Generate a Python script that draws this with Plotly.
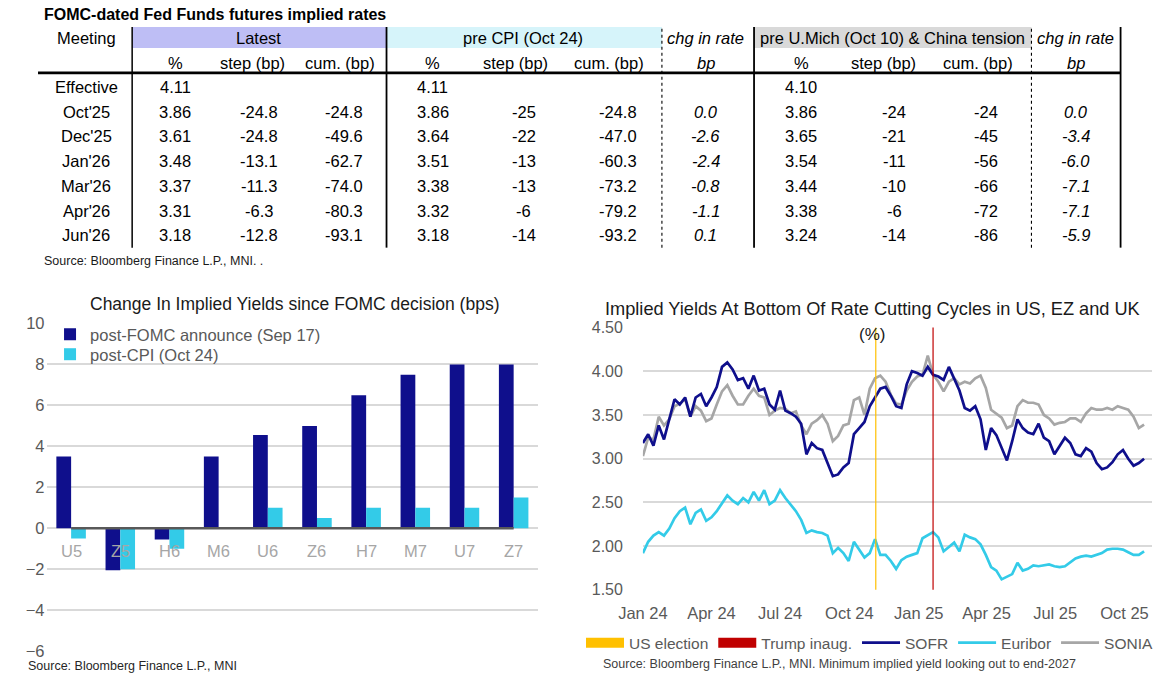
import plotly.graph_objects as go

# ---------------- DATA ----------------
meetings = ["Effective", "Oct'25", "Dec'25", "Jan'26", "Mar'26", "Apr'26", "Jun'26"]
latest_pct = [4.11, 3.86, 3.61, 3.48, 3.37, 3.31, 3.18]
latest_step = [None, -24.8, -24.8, -13.1, -11.3, -6.3, -12.8]
latest_cum = [None, -24.8, -49.6, -62.7, -74.0, -80.3, -93.1]
precpi_pct = [4.11, 3.86, 3.64, 3.51, 3.38, 3.32, 3.18]
precpi_step = [None, -25, -22, -13, -13, -6, -14]
precpi_cum = [None, -24.8, -47.0, -60.3, -73.2, -79.2, -93.2]
precpi_chg = [None, 0.0, -2.6, -2.4, -0.8, -1.1, 0.1]
umich_pct = [4.10, 3.86, 3.65, 3.54, 3.44, 3.38, 3.24]
umich_step = [None, -24, -21, -11, -10, -6, -14]
umich_cum = [None, -24, -45, -56, -66, -72, -86]
umich_chg = [None, 0.0, -3.4, -6.0, -7.1, -7.1, -5.9]

contracts = ["U5", "Z5", "H6", "M6", "U6", "Z6", "H7", "M7", "U7", "Z7"]
post_fomc = [3.5, -2.05, -0.55, 3.5, 4.55, 5.0, 6.5, 7.5, 8.0, 8.0]
post_cpi = [-0.5, -2.0, -1.0, 0.0, 1.0, 0.5, 1.0, 1.0, 1.0, 1.5]

dates = [
    "2024-01-01", "2024-01-08", "2024-01-15", "2024-01-22", "2024-01-29", "2024-02-05", "2024-02-12",
    "2024-02-19", "2024-02-26", "2024-03-04", "2024-03-11", "2024-03-18", "2024-03-25", "2024-04-01",
    "2024-04-08", "2024-04-15", "2024-04-22", "2024-04-29", "2024-05-06", "2024-05-13", "2024-05-20",
    "2024-05-27", "2024-06-03", "2024-06-10", "2024-06-17", "2024-06-24", "2024-07-01", "2024-07-08",
    "2024-07-15", "2024-07-22", "2024-07-29", "2024-08-05", "2024-08-12", "2024-08-19", "2024-08-26",
    "2024-09-02", "2024-09-09", "2024-09-16", "2024-09-23", "2024-09-30", "2024-10-07", "2024-10-14",
    "2024-10-21", "2024-10-28", "2024-11-04", "2024-11-11", "2024-11-18", "2024-11-25", "2024-12-02",
    "2024-12-09", "2024-12-16", "2024-12-23", "2024-12-30", "2025-01-06", "2025-01-13", "2025-01-20",
    "2025-01-27", "2025-02-03", "2025-02-10", "2025-02-17", "2025-02-24", "2025-03-03", "2025-03-10",
    "2025-03-17", "2025-03-24", "2025-03-31", "2025-04-07", "2025-04-14", "2025-04-21", "2025-04-28",
    "2025-05-05", "2025-05-12", "2025-05-19", "2025-05-26", "2025-06-02", "2025-06-09", "2025-06-16",
    "2025-06-23", "2025-06-30", "2025-07-07", "2025-07-14", "2025-07-21", "2025-07-28", "2025-08-04",
    "2025-08-11", "2025-08-18", "2025-08-25", "2025-09-01", "2025-09-08", "2025-09-15", "2025-09-22",
    "2025-09-29", "2025-10-06", "2025-10-13", "2025-10-20", "2025-10-27",
]
sofr = [
    3.18, 3.28, 3.15, 3.38, 3.22, 3.45, 3.68, 3.62, 3.70, 3.48,
    3.70, 3.74, 3.60, 3.70, 3.82, 4.05, 4.10, 4.02, 3.90, 3.92,
    3.80, 3.95, 3.78, 3.80, 3.62, 3.56, 3.78, 3.55, 3.52, 3.48,
    3.40, 3.05, 3.18, 3.12, 3.10, 2.95, 2.80, 2.82, 2.90, 2.95,
    3.28, 3.35, 3.42, 3.60, 3.70, 3.80, 3.82, 3.72, 3.60, 3.58,
    3.85, 4.00, 3.98, 3.95, 4.05, 3.96, 3.94, 3.90, 4.05, 3.92,
    3.78, 3.58, 3.55, 3.60, 3.45, 3.10, 3.35, 3.27, 3.12, 2.98,
    3.20, 3.45, 3.35, 3.30, 3.28, 3.40, 3.24, 3.20, 3.05, 3.15,
    3.24, 3.18, 3.05, 3.03, 3.12, 3.08, 2.95, 2.88, 2.90, 2.96,
    3.05, 3.10, 3.00, 2.92, 2.95, 3.00,
]
euribor = [
    1.92, 2.05, 2.12, 2.16, 2.12, 2.20, 2.32, 2.40, 2.44, 2.25,
    2.38, 2.42, 2.29, 2.33, 2.40, 2.49, 2.58, 2.52, 2.48, 2.55,
    2.50, 2.62, 2.52, 2.64, 2.48, 2.52, 2.64, 2.55, 2.47, 2.40,
    2.30, 2.15, 2.18, 2.16, 2.15, 2.12, 1.92, 1.98, 1.92, 1.83,
    2.05, 1.96, 1.87, 1.92, 2.08, 1.90, 1.90, 1.83, 1.74, 1.84,
    1.88, 1.90, 1.92, 2.09, 2.13, 2.16, 2.10, 1.94, 1.99, 2.04,
    1.94, 2.13, 2.10, 2.08, 2.02, 1.90, 1.76, 1.72, 1.62, 1.65,
    1.68, 1.81, 1.72, 1.74, 1.78, 1.77, 1.78, 1.79, 1.77, 1.76,
    1.77, 1.82, 1.86, 1.88, 1.89, 1.88, 1.90, 1.92, 1.96, 1.97,
    1.97, 1.96, 1.93, 1.90, 1.90, 1.94,
]
sonia = [
    3.03, 3.24, 3.22, 3.48, 3.38, 3.45, 3.60, 3.63, 3.68, 3.48,
    3.60, 3.55, 3.43, 3.46, 3.62, 3.77, 3.84, 3.72, 3.62, 3.62,
    3.72, 3.80, 3.72, 3.70, 3.50, 3.55, 3.58, 3.57, 3.52, 3.54,
    3.38, 3.28, 3.40, 3.44, 3.50, 3.40, 3.20, 3.26, 3.38, 3.40,
    3.67, 3.70, 3.50, 3.80, 3.92, 3.95, 3.88, 3.73, 3.63, 3.62,
    3.78, 3.88, 3.94, 3.96, 4.18, 3.96, 3.88, 3.77, 3.88, 3.92,
    3.85, 3.88, 3.86, 3.92, 3.95, 3.81, 3.56, 3.52, 3.47, 3.35,
    3.38, 3.60, 3.67, 3.64, 3.64, 3.62, 3.50, 3.46, 3.39, 3.41,
    3.42, 3.46, 3.46, 3.42, 3.52, 3.58, 3.56, 3.56, 3.58, 3.56,
    3.60, 3.58, 3.56, 3.48, 3.35, 3.39,
]
event_names = ["US election", "Trump inaug."]
event_dates = ["2024-11-05", "2025-01-20"]

# ---------------- STYLE ----------------
W, H = 1158, 681
FONT = "Liberation Sans, Arial, sans-serif"
NAVY = "#0f0f8c"
CYAN = "#33cbe8"
GREY = "#a6a6a6"
EVENT_COLORS = ["#ffc000", "#c00000"]
GRID = "#d9d9d9"
AXTXT = "#595959"

# Layout positions below are given in reference-picture pixels and mapped to the page
# (the photographed page shows the figure slightly inset and scaled).
OX, OY, SX, SY = 25.0, 7.0, 0.977, 0.975


def X(r):
    return min(max((r - OX) / SX, 1.0), W - 1.0)


def Y(r):
    return min(max((r - OY) / SY, 1.0), H - 1.0)


def xp(r):
    return X(r) / W


def yp(r):
    return 1 - Y(r) / H


def ypx(py):
    return 1 - py / H


fig = go.Figure()

fig.add_trace(go.Bar(x=contracts, y=post_fomc, name="post-FOMC announce (Sep 17)",
                     marker=dict(color=NAVY, line=dict(width=0)), xaxis="x", yaxis="y",
                     legend="legend", showlegend=True))
fig.add_trace(go.Bar(x=contracts, y=post_cpi, name="post-CPI (Oct 24)",
                     marker=dict(color=CYAN, line=dict(width=0)), xaxis="x", yaxis="y",
                     legend="legend3", showlegend=True))

for k, (name, col) in enumerate(zip(event_names, EVENT_COLORS)):
    fig.add_trace(go.Scatter(x=[None], y=[None], mode="lines", name=name,
                             line=dict(color=col, width=10), xaxis="x2", yaxis="y2",
                             legend="legend2", legendrank=k + 1, showlegend=True))
fig.add_trace(go.Scatter(x=dates, y=sonia, mode="lines", name="SONIA",
                         line=dict(color=GREY, width=2.7), xaxis="x2", yaxis="y2",
                         legend="legend2", legendrank=5, showlegend=True))
fig.add_trace(go.Scatter(x=dates, y=euribor, mode="lines", name="Euribor",
                         line=dict(color=CYAN, width=2.7), xaxis="x2", yaxis="y2",
                         legend="legend2", legendrank=4, showlegend=True))
fig.add_trace(go.Scatter(x=dates, y=sofr, mode="lines", name="SOFR",
                         line=dict(color=NAVY, width=2.7), xaxis="x2", yaxis="y2",
                         legend="legend2", legendrank=3, showlegend=True))

shapes = []
for d, col in zip(event_dates, EVENT_COLORS):
    shapes.append(dict(type="line", xref="x2", yref="y2 domain", x0=d, x1=d, y0=0, y1=1,
                       line=dict(color=col, width=1.2)))
shapes.append(dict(type="line", xref="x", yref="y", x0=0, x1=len(contracts) - 1, y0=0, y1=0,
                   line=dict(color="#595959", width=2.5)))

annotations = []
for c in contracts:
    annotations.append(dict(x=c, y=-1.13, xref="x", yref="y", text=c, showarrow=False,
                            font=dict(family=FONT, size=16.5, color="#a6a6a6"),
                            xanchor="center", yanchor="middle"))

annotations += [
    dict(x=xp(295), y=yp(302), xref="paper", yref="paper",
         text="Change In Implied Yields since FOMC decision (bps)", showarrow=False,
         font=dict(family=FONT, size=17.5, color="#1a1a1a"), xanchor="center", yanchor="middle"),
    dict(x=xp(871), y=yp(307), xref="paper", yref="paper",
         text="Implied Yields At Bottom Of Rate Cutting Cycles in US, EZ and UK", showarrow=False,
         font=dict(family=FONT, size=18.2, color="#1a1a1a"), xanchor="center", yanchor="middle"),
    dict(x=xp(871), y=yp(333), xref="paper", yref="paper", text="(%)", showarrow=False,
         font=dict(family=FONT, size=17, color="#1a1a1a"), xanchor="center", yanchor="middle"),
    dict(x=xp(13), y=ypx(674.5), xref="paper", yref="paper", text="Source: Bloomberg Finance L.P., MNI",
         showarrow=False, font=dict(family=FONT, size=12.5, color="#262626"),
         xanchor="left", yanchor="middle"),
    dict(x=xp(600), y=ypx(673), xref="paper", yref="paper",
         text="Source: Bloomberg Finance L.P., MNI. Minimum implied yield looking out to end-2027",
         showarrow=False, font=dict(family=FONT, size=12.5, color="#404040"),
         xanchor="left", yanchor="middle"),
]

# ---------------- TABLE (top) ----------------
TBL = dict(family=FONT, size=16.5, color="#000000")
bands = [(132, 386, "#bebef5"), (386, 661, "#d6f4fa"), (753, 1030, "#d9d9d9")]
for x0, x1, col in bands:
    shapes.append(dict(type="rect", xref="paper", yref="paper", x0=xp(x0), x1=xp(x1),
                       y0=yp(46), y1=yp(25), fillcolor=col, line=dict(width=0), layer="below"))
vlines = [(132, "solid", 1.5), (386, "solid", 1.8), (661, "dot", 1.1), (753, "solid", 1.8),
          (1030, "dot", 1.1), (1119, "solid", 1.8)]
for x0, dash, w in vlines:
    shapes.append(dict(type="line", xref="paper", yref="paper", x0=xp(x0), x1=xp(x0),
                       y0=yp(246), y1=yp(25), line=dict(color="#000", width=w, dash=dash)))
shapes.append(dict(type="line", xref="paper", yref="paper", x0=xp(38), x1=xp(1119),
                   y0=yp(71), y1=yp(71), line=dict(color="#000", width=2.6)))

annotations.append(dict(x=xp(42), y=yp(13), xref="paper", yref="paper",
                        text="<b>FOMC-dated Fed Funds futures implied rates</b>", showarrow=False,
                        font=dict(family=FONT, size=16, color="#000"), xanchor="left",
                        yanchor="middle"))
headers1 = [("Meeting", 86, False), ("Latest", 258, False), ("pre CPI (Oct 24)", 522, False),
            ("chg in rate", 705, True), ("pre U.Mich (Oct 10) & China tension", 891, False),
            ("chg in rate", 1074, True)]
for t, x, it in headers1:
    annotations.append(dict(x=xp(x), y=yp(36), xref="paper", yref="paper",
                            text=f"<i>{t}</i>" if it else t, showarrow=False, font=TBL,
                            xanchor="center", yanchor="middle"))
headers2 = [("%", 175, False), ("step (bp)", 252, False), ("cum. (bp)", 340, False),
            ("%", 432, False), ("step (bp)", 515, False), ("cum. (bp)", 608, False),
            ("bp", 705, True), ("%", 800, False), ("step (bp)", 882, False),
            ("cum. (bp)", 977, False), ("bp", 1074, True)]
for t, x, it in headers2:
    annotations.append(dict(x=xp(x), y=yp(61), xref="paper", yref="paper",
                            text=f"<i>{t}</i>" if it else t, showarrow=False, font=TBL,
                            xanchor="center", yanchor="middle"))

row_y0, row_dy = 85, 24.8
columns = [
    (latest_pct, "{:.2f}", False, 175), (latest_step, "{:.1f}", False, 259),
    (latest_cum, "{:.1f}", False, 344), (precpi_pct, "{:.2f}", False, 432),
    (precpi_step, "{:.0f}", False, 523), (precpi_cum, "{:.1f}", False, 617),
    (precpi_chg, "{:.1f}", True, 705), (umich_pct, "{:.2f}", False, 800),
    (umich_step, "{:.0f}", False, 893), (umich_cum, "{:.0f}", False, 985),
    (umich_chg, "{:.1f}", True, 1074),
]
for i, m in enumerate(meetings):
    y = yp(row_y0 + i * row_dy)
    annotations.append(dict(x=xp(86), y=y, xref="paper", yref="paper", text=m, showarrow=False,
                            font=TBL, xanchor="center", yanchor="middle"))
    for vals, fmt, it, x in columns:
        v = vals[i]
        if v is None:
            continue
        s = fmt.format(v)
        annotations.append(dict(x=xp(x), y=y, xref="paper", yref="paper",
                                text=f"<i>{s}</i>" if it else s, showarrow=False, font=TBL,
                                xanchor="center", yanchor="middle"))
annotations.append(dict(x=xp(42), y=yp(259), xref="paper", yref="paper",
                        text="Source: Bloomberg Finance L.P., MNI. .", showarrow=False,
                        font=dict(family=FONT, size=12.5, color="#1a1a1a"), xanchor="left",
                        yanchor="middle"))

LEG = dict(family=FONT, size=16.5, color=AXTXT)
fig.update_layout(
    width=W, height=H, margin=dict(l=0, r=0, t=0, b=0),
    paper_bgcolor="white", plot_bgcolor="white", showlegend=True,
    font=dict(family=FONT, color=AXTXT),
    barmode="group", bargap=0.4, bargroupgap=0.0,
    xaxis=dict(domain=[xp(46.5), xp(537.5)], type="category", showticklabels=False,
               showgrid=False, zeroline=False, showline=False, anchor="y"),
    yaxis=dict(domain=[yp(650), yp(322)], range=[-6, 10], dtick=2, tick0=0,
               showgrid=True, gridcolor=GRID, gridwidth=1.5, zeroline=False, showline=False,
               tickfont=dict(family=FONT, size=16.5, color=AXTXT), ticklabelstandoff=1,
               anchor="x"),
    xaxis2=dict(domain=[xp(642), xp(1150)], type="date", range=["2024-01-01", "2025-11-06"],
                dtick="M3", tick0="2024-01-01", tickformat="%b %y", showgrid=False,
                zeroline=False, showline=False, ticks="",
                tickfont=dict(family=FONT, size=16.5, color=AXTXT), ticklabelstandoff=12,
                anchor="y2"),
    yaxis2=dict(domain=[yp(588.7), yp(326)], range=[1.5, 4.5], dtick=0.5, tick0=1.5,
                tickformat=".2f", showgrid=True, gridcolor=GRID, gridwidth=1.5,
                zeroline=False, showline=False,
                tickfont=dict(family=FONT, size=16, color=AXTXT), ticklabelstandoff=19,
                anchor="x2"),
    legend=dict(x=xp(50), y=yp(333), xanchor="left", yanchor="middle", orientation="v",
                bgcolor="rgba(0,0,0,0)", font=LEG, itemwidth=30, visible=True),
    legend3=dict(x=xp(50), y=yp(353), xanchor="left", yanchor="middle", orientation="v",
                 bgcolor="rgba(0,0,0,0)", font=LEG, itemwidth=30, visible=True),
    legend2=dict(x=1.0, y=yp(642), xanchor="right", yanchor="middle", orientation="h",
                 bgcolor="rgba(0,0,0,0)", font=dict(family=FONT, size=15.5, color=AXTXT),
                 traceorder="normal", itemwidth=38, visible=True),
    shapes=shapes, annotations=annotations,
)

fig.write_html("out.html",
               config={"displayModeBar": False},
               post_script="document.body.style.margin='0px';"
                           "document.body.style.overflow='hidden';")
